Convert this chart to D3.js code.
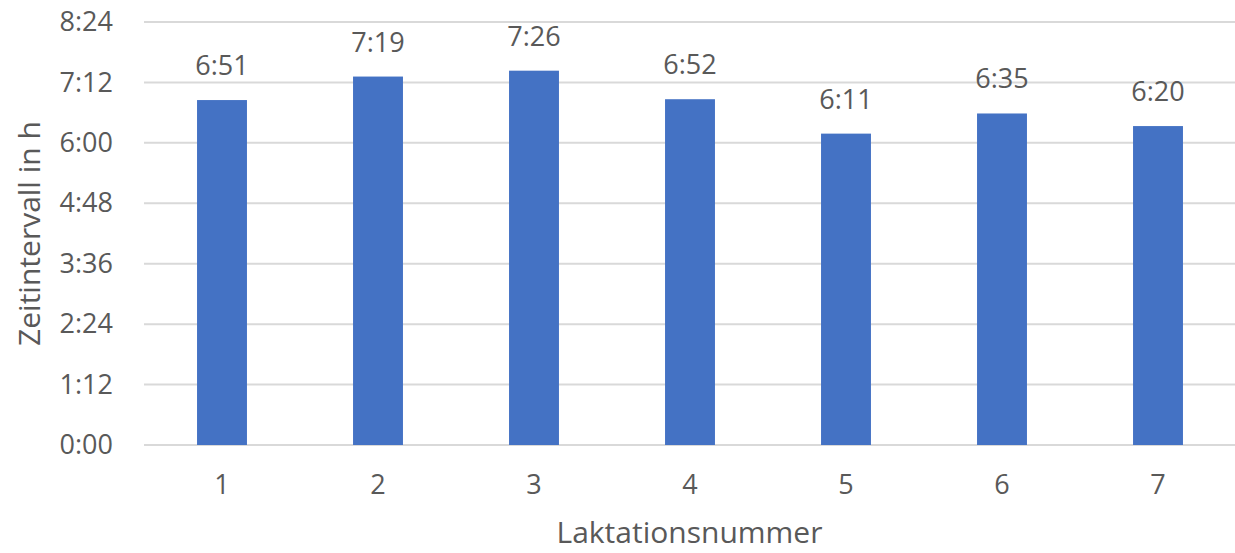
<!DOCTYPE html>
<html>
<head>
<meta charset="utf-8">
<script src="https://cdn.jsdelivr.net/npm/d3@7"></script>
<style>
  body { margin: 0; background: #fff; }
  text { font-family: "Open Sans", sans-serif; fill: #595959; }
</style>
</head>
<body>
<div id="chart"></div>
<script>
// Laktationsnummer and mean interval in minutes
const categories = ["1", "2", "3", "4", "5", "6", "7"];
const labels = ["6:51", "7:19", "7:26", "6:52", "6:11", "6:35", "6:20"];
const minutes = [411, 439, 446, 412, 371, 395, 380];
const tickMinutes = [0, 72, 144, 216, 288, 360, 432, 504];

const width = 1235, height = 553;
const margin = {top: 22, right: 0, bottom: 108, left: 144};

const fmt = m => `${Math.floor(m / 60)}:${String(m % 60).padStart(2, "0")}`;

const svg = d3.select("#chart").append("svg")
    .attr("width", width)
    .attr("height", height);

const x = d3.scaleBand()
    .domain(categories)
    .range([margin.left, width + 1])
    .paddingInner(0.68)
    .paddingOuter(0.34);

const y = d3.scaleLinear()
    .domain([0, 504])
    .range([height - margin.bottom, margin.top]);

// gridlines
svg.append("g")
  .selectAll("line")
  .data(tickMinutes)
  .join("line")
    .attr("x1", margin.left)
    .attr("x2", width)
    .attr("y1", d => y(d))
    .attr("y2", d => y(d))
    .attr("stroke", "#d9d9d9")
    .attr("stroke-width", 2);

// y axis labels
const yAxis = d3.axisLeft(y)
    .tickValues(tickMinutes)
    .tickFormat(fmt)
    .tickSize(0)
    .tickPadding(31);

svg.append("g")
    .attr("transform", `translate(${margin.left},0)`)
    .call(yAxis)
    .call(g => g.select(".domain").remove())
    .call(g => g.selectAll("text")
        .attr("font-size", 27)
        .attr("font-family", null)
        .attr("fill", null));

// x axis labels
const xAxis = d3.axisBottom(x).tickSize(0).tickPadding(30);

svg.append("g")
    .attr("transform", `translate(0,${y(0)})`)
    .call(xAxis)
    .call(g => g.select(".domain").remove())
    .call(g => g.selectAll("text")
        .attr("font-size", 27)
        .attr("font-family", null)
        .attr("fill", null));

// bars
svg.append("g")
  .selectAll("rect")
  .data(minutes)
  .join("rect")
    .attr("x", (d, i) => x(categories[i]))
    .attr("y", d => y(d))
    .attr("width", x.bandwidth())
    .attr("height", d => y(0) - y(d))
    .attr("fill", "#4472c4");

// data labels
svg.append("g")
  .selectAll("text")
  .data(minutes)
  .join("text")
    .attr("x", (d, i) => x(categories[i]) + x.bandwidth() / 2)
    .attr("y", d => y(d) - 25)
    .attr("text-anchor", "middle")
    .attr("font-size", 27)
    .text((d, i) => labels[i]);

// axis titles
svg.append("text")
    .attr("x", (margin.left + width) / 2)
    .attr("y", 543)
    .attr("text-anchor", "middle")
    .attr("font-size", 30)
    .text("Laktationsnummer");

svg.append("text")
    .attr("transform", `translate(40,${y(252)}) rotate(-90)`)
    .attr("text-anchor", "middle")
    .attr("font-size", 30)
    .text("Zeitintervall in h");
</script>
</body>
</html>
